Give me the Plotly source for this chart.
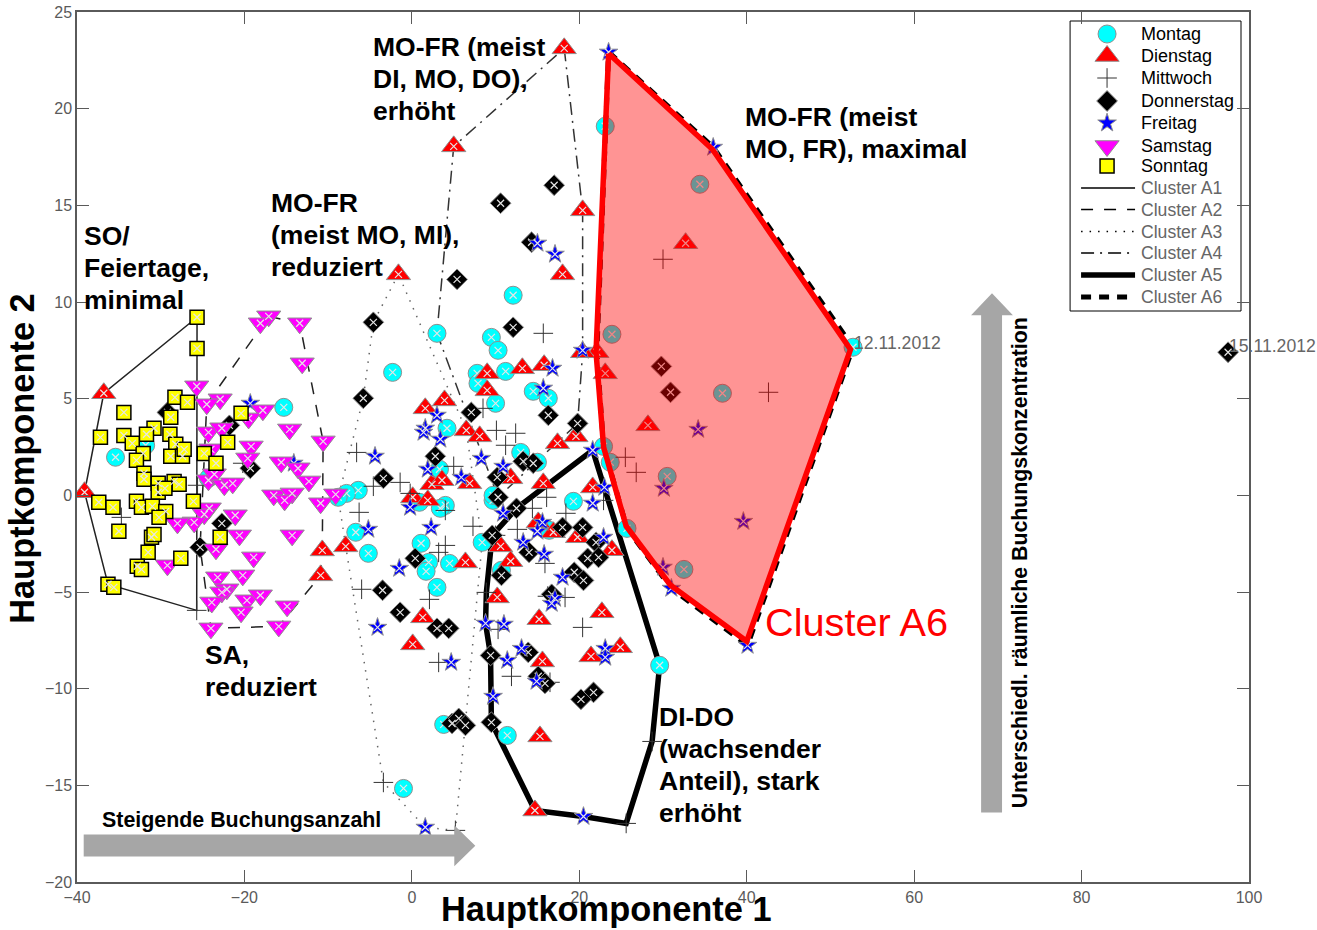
import plotly.graph_objects as go

montag = [(23.1,19.09),(34.4,16.09),(23.9,8.33),(52.7,7.66),(37.1,5.28),(22.9,2.53),(23.7,1.71),(30.5,0.98),(25.7,-1.71),(32.5,-3.83),
 (12.1,10.35),(3.0,8.38),(9.5,8.17),(10.3,7.50),(-2.3,6.36),(7.8,6.31),(7.9,5.79),(11.2,6.41),(14.5,5.38),(16.3,5.02),(10.0,4.76),
 (4.2,3.47),(13.0,2.22),(15.0,1.71),(3.3,1.35),(-6.4,0.26),(-7.8,0.10),(-8.8,-0.10),(0.9,-0.36),(4.0,-0.52),(3.4,-0.67),(9.7,-0.26),
 (9.7,0.0),(-6.7,-1.91),(-5.2,-3.0),(1.1,-2.48),(2.0,-3.47),(1.7,-3.93),(4.5,-3.52),(3.0,-4.76),(8.4,-2.43),(10.7,-3.88),(16.4,-1.81),
 (19.3,-0.31),(3.8,-11.85),(11.4,-12.42),(29.6,-8.79),(-1.0,-15.16),(-15.3,4.55),(-35.4,1.97),(-31.8,2.59),(-24.3,0.88)]
dienstag = [(18.2,23.12),(5.0,18.05),(20.4,14.74),(-1.6,11.43),(18.0,11.43),(32.7,13.04),(22.1,7.40),(20.4,7.40),(23.1,6.31),(28.2,3.62),
 (9.0,6.31),(13.2,6.57),(15.8,6.73),(9.0,5.43),(1.6,4.50),(3.9,4.91),(6.5,3.36),(8.1,3.05),(17.4,2.69),(19.6,3.05),(2.4,0.57),(3.6,0.78),
 (6.9,0.62),(11.8,0.88),(0.1,-0.10),(1.9,-0.26),(15.7,0.62),(21.6,0.41),(15.1,-1.40),(16.9,-1.91),(19.8,-2.17),(10.6,-2.64),(11.8,-3.41),
 (23.9,-2.84),(6.4,-3.47),(-7.9,-2.64),(-10.7,-2.85),(-10.9,-4.14),(1.3,-6.31),(0.1,-7.71),(10.2,-5.28),(15.2,-6.41),(22.7,-6.05),
 (21.4,-8.33),(24.9,-7.86),(15.6,-8.59),(15.3,-12.47),(14.7,-16.30),(-36.8,5.28),(-39.1,0.16)]
mittwoch = [(30.0,12.21),(15.7,8.38),(42.6,5.33),(25.5,1.97),(26.8,1.19),(8.5,4.50),(10.1,3.36),(12.4,3.21),(11.2,2.59),(-6.6,2.22),(5.0,1.50),
 (-1.4,0.67),(-4.6,0.47),(-0.2,0.10),(4.0,-0.78),(16.1,-0.10),(-6.3,-0.88),(7.3,-1.60),(14.4,-0.67),(12.6,-1.76),(18.4,-0.93),(22.9,-0.26),
 (4.0,-2.59),(3.2,-2.95),(10.0,-2.07),(15.9,-3.52),(2.1,-5.38),(-6.0,-4.86),(8.9,-5.02),(10.3,-6.93),(16.2,-5.22),(18.3,-5.28),(20.4,-6.83),
 (3.2,-8.64),(11.9,-9.36),(16.5,-9.67),(28.7,-12.73),(-3.4,-14.85),(25.6,-16.97),(-34.7,-1.14),(-25.7,-5.95),(-20.2,1.66),(-25.6,0.52),(5.2,-17.33)]
donnerstag = [(97.5,7.40),(17.0,16.04),(10.6,15.11),(14.3,13.09),(5.4,11.17),(12.1,8.69),(-4.6,8.95),(-5.8,5.02),(29.8,6.67),(30.9,5.33),
 (16.3,4.14),(7.1,4.29),(19.8,3.72),(13.3,1.76),(14.5,1.66),(2.8,2.02),(10.2,0.93),(-3.4,0.88),(10.3,-0.10),(12.5,-0.67),(18.0,-1.66),
 (20.4,-1.66),(9.6,-2.07),(0.4,-3.26),(14.0,-2.95),(22.0,-2.43),(21.0,-3.26),(22.3,-3.21),(19.4,-3.98),(20.5,-4.40),(10.7,-4.14),(16.7,-5.12),
 (-3.5,-4.91),(-1.4,-6.05),(3.0,-6.88),(4.4,-6.88),(9.4,-8.28),(13.9,-8.12),(15.1,-9.36),(15.9,-9.73),(21.7,-10.19),(20.2,-10.55),
 (4.8,-11.80),(5.6,-11.54),(6.4,-11.90),(9.5,-11.74),(-29.2,4.29),(-21.8,3.62),(-19.3,1.40),(-22.7,-1.45),(-25.3,-2.69)]
freitag = [(23.5,22.92),(36.0,18.0),(15.0,13.04),(17.1,12.47),(16.8,6.57),(15.7,5.54),(20.4,7.5),(3.0,4.14),(1.6,3.47),(1.4,3.26),(3.4,2.90),
 (34.2,3.41),(21.6,2.33),(30.1,0.36),(39.6,-1.35),(23.0,0.41),(21.6,-0.41),(30.0,-3.72),(31.0,-4.81),(40.1,-7.76),(-4.4,2.02),(8.3,1.91),
 (1.9,1.35),(5.9,0.93),(10.9,1.50),(-0.2,-0.62),(-5.2,-1.76),(2.3,-1.66),(10.9,-0.93),(15.6,-1.40),(15.0,-1.86),(13.3,-2.43),(15.8,-3.05),
 (22.9,-2.17),(18.0,-4.24),(-1.5,-3.78),(17.1,-5.33),(16.7,-5.59),(-4.1,-6.83),(8.8,-6.62),(11.0,-6.67),(4.7,-8.64),(11.4,-8.54),(13.1,-7.92),
 (14.9,-9.62),(23.1,-7.92),(23.1,-8.38),(9.7,-10.40),(1.6,-17.17),(20.5,-16.61),(-19.3,4.76),(-14.1,1.66)]
samstag = [(-25.7,5.64),(-17.1,9.26),(-18.1,8.90),(-13.4,8.90),(-13.1,6.83),(-22.9,4.97),(-24.5,4.71),(-17.8,4.40),(-19.5,3.98),(-14.6,3.41),
 (-10.6,2.79),(-24.3,3.26),(-22.7,3.47),(-19.2,2.53),(-24.0,2.38),(-19.6,1.91),(-15.6,1.71),(-13.6,1.40),(-12.3,0.72),(-16.5,0.0),(-14.3,0.10),
 (-15.2,-0.26),(-10.9,-0.41),(-9.1,0.05),(-24.3,0.78),(-23.6,1.09),(-22.4,0.52),(-21.4,0.62),(-24.2,-0.67),(-24.8,-0.98),(-21.1,-1.03),
 (-26.0,-1.40),(-28.0,-1.45),(-20.6,-2.07),(-14.3,-2.07),(-18.9,-3.21),(-23.4,-2.79),(-29.2,-3.62),(-20.2,-4.14),(-23.2,-4.24),(-22.1,-4.86),
 (-22.7,-5.02),(-23.9,-5.54),(-19.7,-5.43),(-18.1,-5.17),(-14.9,-5.74),(-20.4,-6.05),(-15.9,-6.78),(-24.0,-6.88)]
sonntag = [(-25.66,9.21),(-25.66,7.60),(-37.2,3.0),(-34.4,4.29),(-28.3,5.07),(-26.8,4.81),(-28.8,4.04),(-34.4,3.10),(-30.8,3.47),(-31.7,3.16),
 (-28.9,3.16),(-33.4,2.69),(-28.2,2.64),(-32.1,2.17),(-28.8,2.02),(-27.4,2.02),(-27.2,2.38),(-32.9,1.81),(-24.8,2.17),(-23.4,1.66),(-22.0,2.74),
 (-20.4,4.24),(-32.0,1.14),(-32.0,0.83),(-30.3,0.62),(-28.4,0.72),(-27.8,0.57),(-30.3,0.16),(-29.5,0.36),(-26.1,-0.31),(-37.4,-0.36),(-35.7,-0.62),
 (-32.9,-0.31),(-32.3,-0.62),(-31.0,-0.57),(-29.4,-0.83),(-30.2,-1.14),(-35.0,-1.86),(-31.1,-2.17),(-30.8,-2.02),(-31.5,-2.95),(-27.6,-3.26),
 (-32.8,-3.67),(-32.3,-3.83),(-36.3,-4.60),(-35.6,-4.76),(-22.9,-2.17)]

cluster_a1 = [(-25.66,9.21),(-36.8,5.28),(-39.1,0.16),(-36.3,-4.60),(-25.7,-5.95),(-25.66,9.21)]
cluster_a2 = [(-17.1,9.26),(-13.4,8.90),(-10.6,2.79),(-10.7,-2.85),(-10.9,-4.14),(-15.9,-6.78),(-24.0,-6.88),(-25.3,-2.69),(-24.5,4.71),(-17.1,9.26)]
cluster_a3 = [(-1.6,11.43),(-4.6,8.95),(-5.8,5.02),(-8.8,-0.10),(-7.9,-2.64),(-3.4,-14.85),(1.6,-17.17),(5.2,-17.33),(8.4,-2.43),(6.5,3.36),(-1.6,11.43)]
cluster_a4 = [(18.2,23.12),(20.4,14.74),(20.4,7.40),(19.8,3.72),(10.3,-0.10),(3.0,8.38),(5.0,18.05),(18.2,23.12)]
cluster_a5 = [(21.6,2.33),(29.6,-8.79),(28.7,-12.73),(25.6,-16.97),(20.5,-16.61),(14.7,-16.30),(9.5,-11.74),(9.4,-8.28),(8.8,-6.62),(8.9,-5.02),(9.6,-2.07),(12.5,-0.67),(21.6,2.33)]
cluster_a6 = [(23.5,22.92),(36.0,18.0),(52.7,7.66),(40.1,-7.76),(31.0,-4.81),(25.7,-1.71),(22.9,2.53),(22.1,7.40),(23.5,22.92)]
cluster_a6_area = [(23.5,22.85),(35.9,17.9),(52.4,7.55),(40.0,-7.55),(30.9,-4.65),(25.6,-1.6),(22.9,2.5),(22.0,7.4),(23.5,22.85)]

FONT = "Liberation Sans"
GREY = "#5a5a5a"
fig = go.Figure()

def xs(p): return [a for a, _ in p]
def ys(p): return [b for _, b in p]

clusters = [("Cluster A1", cluster_a1, "solid", 1.5, "#222222", 188),
            ("Cluster A2", cluster_a2, "12px,11px", 1.5, "#222222", 209.5),
            ("Cluster A3", cluster_a3, "1.5px,7px", 1.5, "#666666", 231.5),
            ("Cluster A4", cluster_a4, "13px,6px,2px,6px", 1.5, "#333333", 253),
            ("Cluster A5", cluster_a5, "solid", 5.5, "#000000", 275),
            ("Cluster A6", cluster_a6, "10px,8px", 5, "#000000", 297)]
for name, pts, dash, w, col, _ in clusters:
    fig.add_trace(go.Scatter(x=xs(pts), y=ys(pts), mode="lines", name=name, line=dict(color=col, width=w, dash=dash)))

def marker_style(name, sym, col, size):
    if sym.endswith("open"):
        return dict(symbol=sym, size=size, color=col, line=dict(color=col, width=1))
    if name == "Sonntag":
        return dict(symbol=sym, size=size, color=col, line=dict(color="#000000", width=1.5))
    return dict(symbol=sym, size=size, color=col, line=dict(color="#8f8f8f", width=1))

series = [("Montag", montag, "circle", "#00ffff", 18, 34), ("Dienstag", dienstag, "triangle-up", "#ff0000", 21, 56),
          ("Mittwoch", mittwoch, "cross-thin-open", "#333333", 14, 78), ("Donnerstag", donnerstag, "diamond", "#000000", 16, 101),
          ("Freitag", freitag, "star", "#0000ff", 14, 123), ("Samstag", samstag, "triangle-down", "#ff00ff", 21, 146),
          ("Sonntag", sonntag, "square", "#ffff00", 14, 166)]
for name, pts, sym, col, size, _ in series:
    fig.add_trace(go.Scatter(x=xs(pts), y=ys(pts), mode="markers", name=name, marker=marker_style(name, sym, col, size)))
    if not sym.endswith("open"):
        fig.add_trace(go.Scatter(x=xs(pts), y=ys(pts), mode="markers", hoverinfo="skip",
                                 marker=dict(symbol="x-thin-open", size=7, color="#e6e6e6", line=dict(color="#e6e6e6", width=1.2))))

fig.add_trace(go.Scatter(x=xs(cluster_a6_area), y=ys(cluster_a6_area), mode="lines", fill="toself",
                         fillcolor="rgba(255,0,0,0.42)", line=dict(color="#ff0000", width=5.5), hoverinfo="skip"))

def bold(x, lines, size=26.5):
    for y, text in lines:
        fig.add_annotation(x=x, y=y, text=f"<b>{text}</b>", showarrow=False, xanchor="left", yanchor="middle", align="left",
                           font=dict(family=FONT, size=size, color="#000000"), borderpad=0)

bold(-39.3, [(13.4, "SO/"), (11.74, "Feiertage,"), (10.09, "minimal")])
bold(-17.0, [(15.1, "MO-FR"), (13.45, "(meist MO, MI),"), (11.8, "reduziert")])
bold(-4.8, [(23.18, "MO-FR (meist"), (21.52, "DI, MO, DO),"), (19.87, "erhöht")])
bold(39.7, [(19.55, "MO-FR (meist"), (17.9, "MO, FR), maximal")])
bold(-24.8, [(-8.28, "SA,"), (-9.93, "reduziert")])
bold(29.45, [(-11.48, "DI-DO"), (-13.14, "(wachsender"), (-14.8, "Anteil), stark"), (-16.45, "erhöht")])
bold(-37.1, [(-16.8, "Steigende Buchungsanzahl")], 21.4)
fig.add_annotation(x=41.9, y=-6.57, text="Cluster A6", showarrow=False, xanchor="left", yanchor="middle",
                   font=dict(family=FONT, size=39.7, color="#ff0000"))
fig.add_annotation(x=52.6, y=7.9, text="12.11.2012", showarrow=False, xanchor="left", yanchor="middle",
                   font=dict(family=FONT, size=17.6, color="#666666"))
fig.add_annotation(x=97.4, y=7.7, text="15.11.2012", showarrow=False, xanchor="left", yanchor="middle",
                   font=dict(family=FONT, size=17.6, color="#666666"))
fig.add_annotation(x=72.75, y=-3.47, text="<b>Unterschiedl. räumliche Buchungskonzentration</b>", showarrow=False, textangle=-90,
                   font=dict(family=FONT, size=21.3, color="#000000"))
fig.add_annotation(x=0.4516, y=-0.031, xref="paper", yref="paper", xanchor="center", yanchor="middle",
                   text="<b>Hauptkomponente 1</b>", showarrow=False, font=dict(family=FONT, size=34.4, color="#000000"))
fig.add_annotation(x=-0.0465, y=0.487, xref="paper", yref="paper", xanchor="center", yanchor="middle",
                   text="<b>Hauptkomponente 2</b>", showarrow=False, textangle=-90, font=dict(family=FONT, size=34.4, color="#000000"))

ARROW = "#a6a6a6"
fig.add_shape(type="path", xref="x", yref="y", layer="above", fillcolor=ARROW, line_width=0,
              path="M -39.2 -17.54 L 5.07 -17.54 L 5.07 -17.07 L 7.58 -18.13 L 5.07 -19.19 L 5.07 -18.68 L -39.2 -18.68 Z")
fig.add_shape(type="path", xref="x", yref="y", layer="above", fillcolor=ARROW, line_width=0,
              path="M 68.0 -16.4 L 68.0 9.31 L 66.8 9.31 L 69.3 10.45 L 71.8 9.31 L 70.5 9.31 L 70.5 -16.4 Z")

# legend box, keys and labels on an overlay axis pair measured in picture pixels
fig.add_shape(type="rect", xref="x2", yref="y2", x0=1070, x1=1241, y0=21, y1=311, layer="below",
              fillcolor="white", line=dict(color="#000000", width=1))
for name, pts, sym, col, size, row in series:
    fig.add_trace(go.Scatter(x=[1107], y=[row], xaxis="x2", yaxis="y2", mode="markers", hoverinfo="skip",
                             marker=marker_style(name, sym, col, size)))
    fig.add_annotation(x=1140, y=row, xref="x2", yref="y2", text=name, showarrow=False, xanchor="left", yanchor="middle", borderpad=0,
                       font=dict(family=FONT, size=18, color="#000000"))
for name, pts, dash, w, col, row in clusters:
    fig.add_trace(go.Scatter(x=[1081, 1135], y=[row, row], xaxis="x2", yaxis="y2", mode="lines", hoverinfo="skip",
                             line=dict(color="#000000", width=w, dash=dash)))
    fig.add_annotation(x=1140, y=row, xref="x2", yref="y2", text=name, showarrow=False, xanchor="left", yanchor="middle", borderpad=0,
                       font=dict(family=FONT, size=17.6, color="#666666"))

axis = dict(showgrid=False, zeroline=False, showline=True, linecolor=GREY, linewidth=1.5, mirror="ticks",
            ticks="inside", ticklen=12, tickcolor=GREY, tickwidth=1,
            tickfont=dict(family=FONT, size=16, color=GREY))
fig.update_xaxes(range=[-40, 100], tickmode="array", tickvals=[-40, -20, 0, 20, 40, 60, 80, 100], **axis)
fig.update_yaxes(range=[-20, 25], tickmode="array", tickvals=[-20, -15, -10, -5, 0, 5, 10, 15, 20, 25], **axis)
fig.update_layout(width=1317, height=930, autosize=False, showlegend=False,
                  margin=dict(l=76.5, r=68, t=12, b=48, autoexpand=False), plot_bgcolor="white", paper_bgcolor="white",
                  xaxis2=dict(overlaying="x", range=[76.5, 1249], visible=False),
                  yaxis2=dict(overlaying="y", range=[882, 12], visible=False))
fig.write_html("out.html", config={"displayModeBar": False}, post_script='document.body.style.margin="0";')
